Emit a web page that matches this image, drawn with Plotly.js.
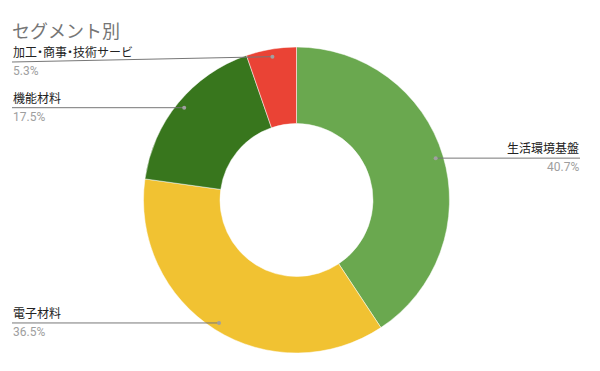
<!DOCTYPE html>
<html>
<head>
<meta charset="utf-8">
<script src="https://cdn.plot.ly/plotly-3.0.1.min.js"></script>
<style>html,body{margin:0;padding:0;background:#fff}</style>
</head>
<body>
<div id="chart" style="width:600px;height:371px"></div>
<script>
// ---- data ----
const categories = ['生活環境基盤', '電子材料', '機能材料', '加工・商事・技術サービ'];
const shares = [40.7, 36.5, 17.5, 5.3];
const sliceColors = ['#6aa84f', '#f1c232', '#38761d', '#ea4335'];

// ---- layout constants ----
const W = 600, H = 371;
const domX = [0, 593 / W];
const domY = [18 / H, 1 - 47 / H];
const FONT = 'Roboto, "Noto Sans CJK JP", sans-serif';

// pie geometry in pixels (as Plotly computes it)
const dw = (domX[1] - domX[0]) * W, dh = (domY[1] - domY[0]) * H;
const R = Math.min(dw, dh) / 2;
const cx = (domX[0] + domX[1]) / 2 * W;
const cy = H - (domY[0] + domY[1]) / 2 * H;

// tighten the full-width middle dots so the label keeps its compact look
const tight = s => s.replace(/(.)・/g,
  "<span style='letter-spacing:-3px'>$1・</span>");

const total = shares.reduce((a, b) => a + b, 0);
const shapes = [], annotations = [];
const px = x => x / W, py = y => 1 - y / H;
const leftX = 12, rightX = 580, minLabelY = 62;
let acc = 0;
shares.forEach((v, i) => {
  const mid = (acc + v / 2) / total * 2 * Math.PI;
  acc += v;
  const dx = cx + 0.95 * R * Math.sin(mid);
  const dy = cy - 0.95 * R * Math.cos(mid);
  const right = Math.sin(mid) > 0;
  const ly = Math.max(dy, minLabelY);
  const lx = right ? rightX : leftX;
  shapes.push({type: 'line', xref: 'paper', yref: 'paper',
    x0: px(lx), y0: py(ly), x1: px(dx), y1: py(dy),
    line: {color: '#777777', width: 1}});
  shapes.push({type: 'circle', xref: 'paper', yref: 'paper',
    x0: px(dx - 2), x1: px(dx + 2), y0: py(dy - 2), y1: py(dy + 2),
    fillcolor: '#a0a0a0', line: {width: 0}});
  annotations.push({xref: 'paper', yref: 'paper', x: px(lx), y: py(ly),
    xanchor: right ? 'right' : 'left', yanchor: 'bottom', showarrow: false,
    text: tight(categories[i]), font: {family: FONT, size: 12, color: '#222222'},
    borderpad: 0, yshift: 1});
  annotations.push({xref: 'paper', yref: 'paper', x: px(lx), y: py(ly),
    xanchor: right ? 'right' : 'left', yanchor: 'top', showarrow: false,
    text: v.toFixed(1) + '%', font: {family: FONT, size: 12, color: '#9e9e9e'},
    borderpad: 0, yshift: -1});
});

const trace = {
  type: 'pie', labels: categories, values: shares, hole: 0.5,
  sort: false, direction: 'clockwise', rotation: 0,
  marker: {colors: sliceColors, line: {color: '#ffffff', width: 0.5}},
  textinfo: 'none', hoverinfo: 'label+percent',
  domain: {x: domX, y: domY}, showlegend: false
};

const layout = {
  width: W, height: H,
  margin: {l: 0, r: 0, t: 0, b: 0},
  paper_bgcolor: '#ffffff',
  title: {text: 'セグメント別', x: 12 / W, xref: 'paper', xanchor: 'left',
    y: 1 - 32 / H, yref: 'paper', yanchor: 'middle',
    font: {family: FONT, size: 18, color: '#757575'}},
  shapes: shapes, annotations: annotations, showlegend: false
};
Plotly.newPlot('chart', [trace], layout, {displayModeBar: false, staticPlot: true});
</script>
</body>
</html>
